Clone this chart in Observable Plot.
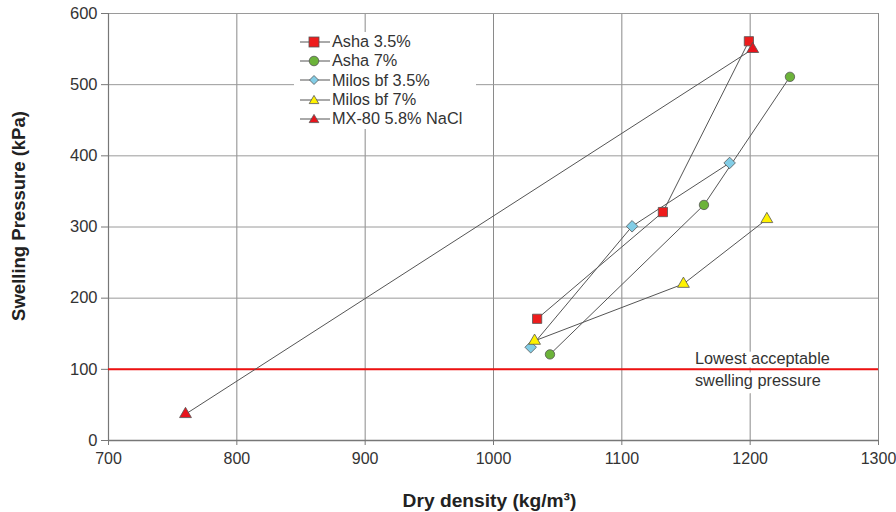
<!DOCTYPE html>
<html>
<head>
<meta charset="utf-8">
<script src="https://cdn.jsdelivr.net/npm/d3@7"></script>
<script src="https://cdn.jsdelivr.net/npm/@observablehq/plot@0.6"></script>
<style>
  body { margin: 0; background: #fff; font-family: "Liberation Sans", Arial, sans-serif; }
  #wrap { position: relative; width: 896px; height: 512px; }
  #legend { position: absolute; left: 294px; top: 32px; width: 182px; height: 97px; background: #fff; }
  .row { display: flex; align-items: center; height: 19.3px; font-size: 16.3px; color: #333; }
  .row svg { flex: none; margin-right: 1px; }
</style>
</head>
<body>
<div id="wrap"></div>
<script>
// ---- data ----
const seriesNames = ["Asha 3.5%", "Asha 7%", "Milos bf 3.5%", "Milos bf 7%", "MX-80 5.8% NaCl"];
const asha35Density = [1034, 1132, 1199];
const asha35Pressure = [171, 321, 561];
const asha7Density = [1044, 1164, 1231];
const asha7Pressure = [121, 331, 511];
const milos35Density = [1029, 1108, 1184];
const milos35Pressure = [131, 301, 390];
const milos7Density = [1032, 1148, 1213];
const milos7Pressure = [140, 220, 311];
const mx80Density = [760, 1202];
const mx80Pressure = [37, 550];
const xTicks = [700, 800, 900, 1000, 1100, 1200, 1300];
const yTicks = [0, 100, 200, 300, 400, 500, 600];
const thresholdValue = [100];
const thresholdLabel = ["Lowest acceptable\nswelling pressure"];
const thresholdLabelX = [1157];

// styles
const styles = {
  "Asha 3.5%": {symbol: "square", fill: "#ee1c1c", r: 5.2},
  "Asha 7%": {symbol: "circle", fill: "#6cb33a", r: 4.7},
  "Milos bf 3.5%": {symbol: "diamond2", fill: "#82cde6", r: 5.2},
  "Milos bf 7%": {symbol: "triangle", fill: "#fff200", r: 4.4},
  "MX-80 5.8% NaCl": {symbol: "triangle", fill: "#e8141c", r: 4.4}
};

const cols = [
  [asha35Density, asha35Pressure],
  [asha7Density, asha7Pressure],
  [milos35Density, milos35Pressure],
  [milos7Density, milos7Pressure],
  [mx80Density, mx80Pressure]
];
const data = [];
seriesNames.forEach((s, i) => {
  const [xs, ys] = cols[i];
  xs.forEach((x, j) => data.push({series: s, density: x, pressure: ys[j]}));
});

const font = "Liberation Sans, Arial, sans-serif";

const dotMarks = seriesNames.map(s => Plot.dot(data.filter(d => d.series === s), {
  x: "density", y: "pressure", symbol: () => styles[s].symbol, r: styles[s].r,
  fill: styles[s].fill, stroke: "#555", strokeWidth: 0.8
}));

const chart = Plot.plot({
  width: 896, height: 512,
  marginLeft: 108, marginRight: 18, marginTop: 13, marginBottom: 72,
  style: {fontFamily: font, fontSize: "16px", color: "#333", background: "#fff"},
  x: {domain: [700, 1300]},
  y: {domain: [0, 600]},
  symbol: {type: "identity"},
  marks: [
    Plot.ruleX(xTicks.slice(1), {stroke: "#8a8a8a", strokeWidth: 1}),
    Plot.ruleY(yTicks.slice(1), {stroke: "#9a9a9a", strokeWidth: 1}),
    Plot.ruleX([700], {stroke: "#777", strokeWidth: 1.2}),
    Plot.ruleY([0], {stroke: "#777", strokeWidth: 1.5}),
    Plot.axisX({ticks: xTicks, tickFormat: d => String(d), tickSize: 5, tickPadding: 7, label: null, fontSize: 16, stroke: "#777", fill: "#333"}),
    Plot.axisY({ticks: yTicks, tickFormat: d => String(d), tickSize: 7, tickPadding: 4, label: null, fontSize: 16.5, stroke: "#777", fill: "#333"}),
    Plot.text(thresholdLabel, {x: thresholdLabelX, y: thresholdValue, textAnchor: "start", lineAnchor: "middle",
      lineHeight: 1.38, dy: -1.5, fontSize: 16.3, fill: "#333", stroke: "white", strokeWidth: 9}),
    Plot.ruleY(thresholdValue, {stroke: "#ee1111", strokeWidth: 2}),
    Plot.line(data, {x: "density", y: "pressure", z: "series", stroke: "#555", strokeWidth: 1}),
    ...dotMarks,
    Plot.text(["Dry density (kg/m³)"], {frameAnchor: "bottom", textAnchor: "middle", dy: 66, dx: -4, fontSize: 19.2, fontWeight: "bold", fill: "#222"}),
    Plot.text(["Swelling Pressure (kPa)"], {frameAnchor: "left", textAnchor: "middle", lineAnchor: "middle", dx: -89, dy: -11, rotate: -90, fontSize: 18.5, fontWeight: "bold", fill: "#222"})
  ]
});

const wrap = document.getElementById("wrap");
wrap.appendChild(chart);

// legend overlay
const legend = document.createElement("div");
legend.id = "legend";
const shapes = {
  square: (c) => `<rect x="15" y="5" width="10" height="10" fill="${c}" stroke="#555" stroke-width="0.8"/>`,
  circle: (c) => `<circle cx="20" cy="10" r="4.8" fill="${c}" stroke="#555" stroke-width="0.8"/>`,
  diamond2: (c) => `<path d="M20 5.5 L24.5 10 L20 14.5 L15.5 10Z" fill="${c}" stroke="#555" stroke-width="0.8"/>`,
  triangle: (c) => `<path d="M20 5.4 L24.8 13.6 L15.2 13.6Z" fill="${c}" stroke="#555" stroke-width="0.8"/>`
};
seriesNames.forEach(s => {
  const st = styles[s];
  const row = document.createElement("div");
  row.className = "row";
  row.innerHTML = `<svg width="37" height="20"><line x1="6" x2="36" y1="10" y2="10" stroke="#555" stroke-width="1"/>${shapes[st.symbol](st.fill)}</svg><span>${s}</span>`;
  legend.appendChild(row);
});
wrap.appendChild(legend);
</script>
</body>
</html>
